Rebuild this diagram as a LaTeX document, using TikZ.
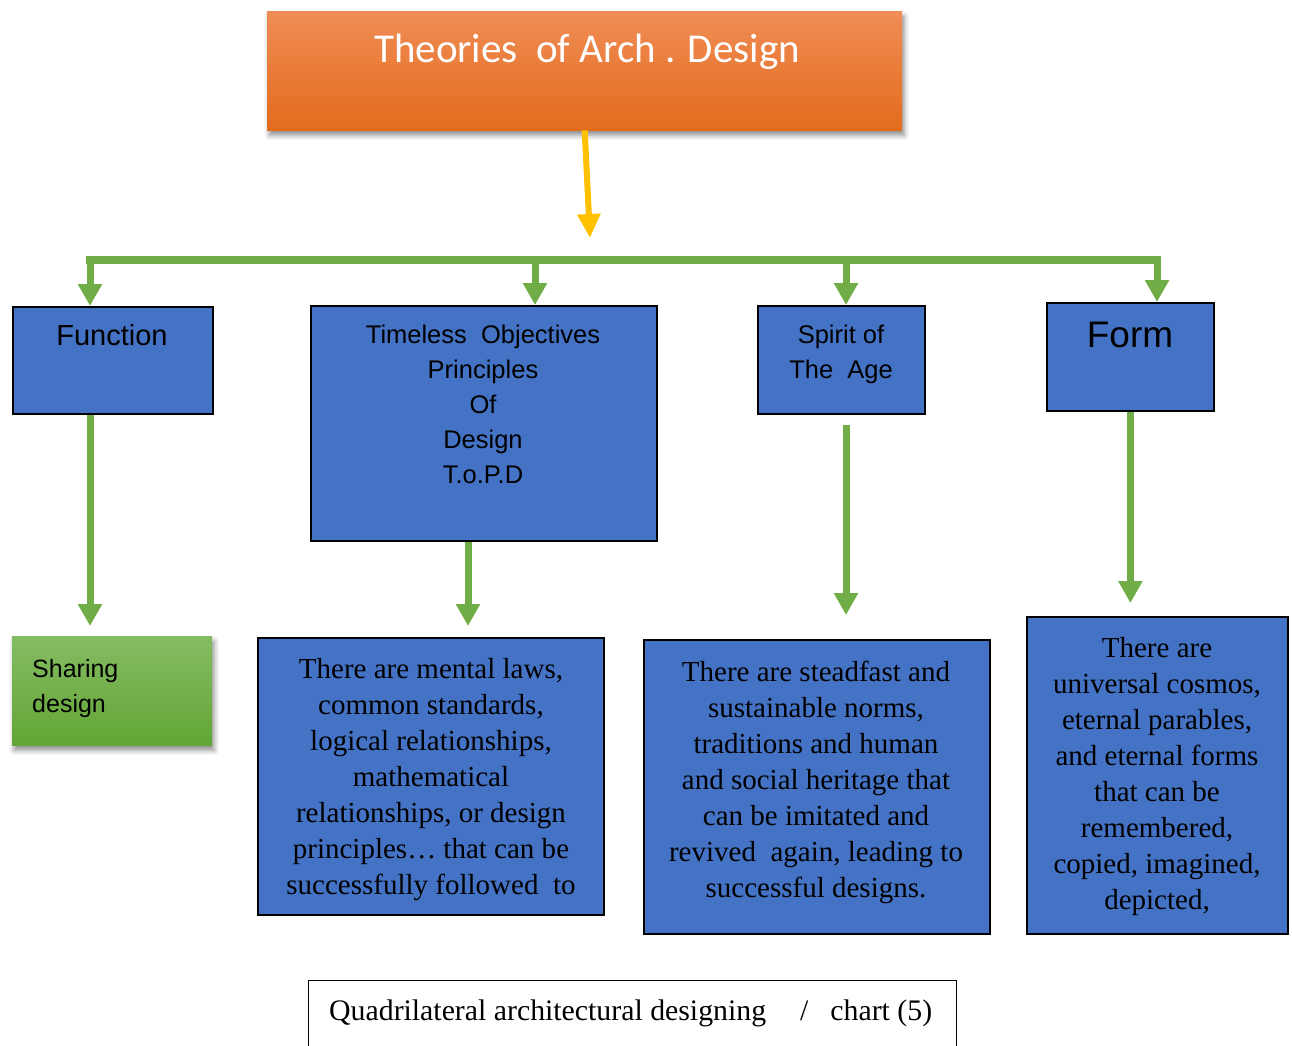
\documentclass[tikz,border=0pt]{standalone}
\usepackage{fontspec}
\setmainfont{Liberation Serif}
\newfontfamily\arialf{Liberation Sans}
\newfontfamily\calibrif{Carlito}
\usetikzlibrary{arrows.meta,shadows.blur}

\definecolor{boxblue}{HTML}{4472C4}
\definecolor{linegreen}{HTML}{70AD47}
\definecolor{arrowgold}{HTML}{FFC000}
\definecolor{orangetop}{HTML}{F08D56}
\definecolor{orangemid}{HTML}{F47D2E}
\definecolor{orangebot}{HTML}{E36B1C}
\definecolor{greentop}{HTML}{85BC62}
\definecolor{greenbot}{HTML}{62A535}

\tikzset{
  panel/.style={draw=black, line width=1.8pt, fill=boxblue, inner sep=0pt, anchor=north west},
  softshadow/.style={blur shadow={shadow xshift=2pt, shadow yshift=-5pt, shadow blur radius=5pt, shadow opacity=45}},
  headbox/.style={shading=axis, top color=orangetop, middle color=orangemid, bottom color=orangebot,
                  inner sep=0pt, anchor=north west, softshadow},
  notebox/.style={shading=axis, top color=greentop, bottom color=greenbot,
                  inner sep=0pt, anchor=north west, softshadow},
  captionbox/.style={draw=black, line width=1.4pt, inner sep=0pt, anchor=north west},
  sanslabel/.style={font=\arialf\fontsize{25.5}{35}\selectfont, align=center, inner sep=0pt, text=black},
  seriflabel/.style={font=\fontsize{29}{36}\selectfont, align=center, inner sep=0pt, anchor=north, text=black},
  busline/.style={draw=linegreen, line width=7.5pt},
  feed/.style={draw=linegreen, line width=7pt, -{Triangle[width=23pt,length=22pt]}},
  mainfeed/.style={draw=arrowgold, line width=6pt, -{Triangle[width=22pt,length=24pt]}},
}

\begin{document}
\begin{tikzpicture}[x=1pt,y=-1pt]
\clip (0,0) rectangle (1292,1045);
\useasboundingbox (0,0) rectangle (1292,1045);

% heading
\node[headbox, minimum width=635pt, minimum height=119pt] (title) at (267,11) {};
\node[font=\calibrif\fontsize{41}{48}\selectfont, text=white, anchor=base, inner sep=0pt]
  (titleT) at (587,62) {Theories~~of Arch . Design};

% four categories
\node[panel, minimum width=200pt, minimum height=107pt] (fn) at (12,306) {};
\node[sanslabel, font=\arialf\fontsize{29}{35}\selectfont, anchor=base] (fnT) at (112,345) {Function};

\node[panel, minimum width=346pt, minimum height=235pt] (topd) at (310,305) {};
\node[sanslabel, anchor=north] (topdT) at (483,325)
  {Timeless~~Objectives\\Principles\\Of\\Design\\T.o.P.D};

\node[panel, minimum width=167pt, minimum height=108pt] (sp) at (757,305) {};
\node[sanslabel, anchor=north] (spT) at (841,325) {Spirit of\\The~~Age};

\node[panel, minimum width=167pt, minimum height=108pt] (fo) at (1046,302) {};
\node[sanslabel, font=\arialf\fontsize{37}{40}\selectfont, anchor=base] (foT) at (1130,347) {Form};

% descriptions
\node[notebox, minimum width=200pt, minimum height=109pt] (share) at (12,636) {};
\node[sanslabel, font=\arialf\fontsize{25}{35}\selectfont, align=left, anchor=north west] (shareT) at (32,659)
  {Sharing\\design};

\node[panel, minimum width=346pt, minimum height=277pt] (d1) at (257,637) {};
\node[seriflabel] (d1T) at (431,658)
  {There are mental laws,\\common standards,\\logical relationships,\\mathematical\\relationships, or design\\principles\dots{} that can be\\successfully followed~~to};

\node[panel, minimum width=346pt, minimum height=294pt] (d2) at (643,639) {};
\node[seriflabel] (d2T) at (816,661)
  {There are steadfast and\\sustainable norms,\\traditions and human\\and social heritage that\\can be imitated and\\revived~~again, leading to\\successful designs.};

\node[panel, minimum width=261pt, minimum height=317pt] (d3) at (1026,616) {};
\node[seriflabel] (d3T) at (1157,637)
  {There are\\universal cosmos,\\eternal parables,\\and eternal forms\\that can be\\remembered,\\copied, imagined,\\depicted,};

% caption
\node[captionbox, minimum width=648pt, minimum height=120pt] (cap) at (308,980) {};
\node[font=\fontsize{29.8}{34}\selectfont, anchor=base west, inner sep=0pt] (capT) at (329,1020)
  {Quadrilateral architectural designing\hspace{34pt}/\hspace{22pt}chart (5)};

% connectors
\coordinate (hub) at (590,238);
\draw[mainfeed] (title.south) -- (hub);

\coordinate (busL) at (90,260);
\coordinate (busR) at (1157,260);
\draw[busline] ([xshift=-3.75pt]busL) -- ([xshift=3.75pt]busR);
\draw[feed] (busL) -- (busL |- fn.north);
\draw[feed] (busL -| 535,0) -- (topd.north -| 535,0);
\draw[feed] (busL -| 846,0) -- (sp.north -| 846,0);
\draw[feed] (busR) -- (busR |- fo.north);

\draw[feed] (fn.south -| busL) -- ([yshift=10pt]share.north -| busL);
\draw[feed] (topd.south -| 468,0) -- ([yshift=11pt]d1.north -| 468,0);
\draw[feed] ([yshift=-10pt]sp.south -| 846,0) -- ([yshift=24pt]d2.north -| 846,0);
\draw[feed] (fo.south) -- ([yshift=13pt]d3.north -| fo.south);
\end{tikzpicture}
\end{document}
